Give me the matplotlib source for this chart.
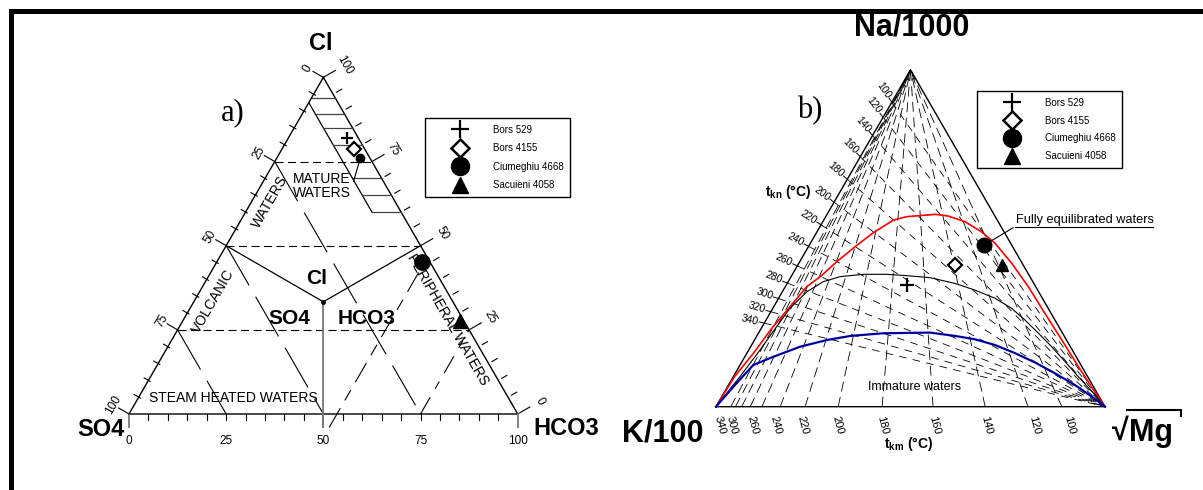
import numpy as np
import matplotlib.pyplot as plt
from matplotlib.lines import Line2D
from matplotlib.patches import Rectangle

plt.rcParams['font.family'] = ['Liberation Sans', 'DejaVu Sans']
plt.rcParams['mathtext.fontset'] = 'custom'
plt.rcParams['mathtext.rm'] = 'Liberation Sans'
plt.rcParams['mathtext.bf'] = 'Liberation Sans:bold'
plt.rcParams['lines.scale_dashes'] = False
plt.rcParams['lines.dash_capstyle'] = 'butt'

W, H = 1203, 490
R3 = np.sqrt(3) / 2

samples = ['Bors 529', 'Bors 4155', 'Ciumeghiu 4668', 'Sacuieni 4058']

# a) relative Cl - SO4 - HCO3 (%)
a_cl = [81.9, 78.7, 45.3, 27.7]
a_hco3 = [15.2, 18.5, 52.7, 71.2]
dot_cl, dot_hco3 = 76.1, 21.5          # small dot with leader
lead_cl, lead_hco3 = 69.1, 23.2
mature_so4 = 7.5
mature_cl = [94, 89, 85, 80, 70, 65, 60]
cl_levels = [75, 50, 25]
so4_levels = [25, 50, 75]

# b) Na/1000 - K/100 - sqrt(Mg) (%)
b_na = [36.1, 42.1, 48.0, 42.1]
b_mg = [31.0, 40.4, 45.0, 52.6]

tk_temps = [100, 120, 140, 160, 180, 200, 220, 240, 260, 280, 300, 320, 340]
tkn_na = [90.4, 85.9, 80.5, 74.2, 67.5, 60.7, 54.0, 47.6, 41.8, 36.7, 32.1, 28.2, 24.8]
tkm_mg = [88.9, 80.2, 69.2, 55.8, 42.7, 31.4, 22.9, 16.5, 11.8, 8.8, 6.6, 5.0, 3.8]
tkm_labels = ['100', '120', '140', '160', '180', '200', '220', '240', '260', '300', '340']
tkm_label_pos = [90.7, 81.7, 69.4, 56.0, 42.7, 31.1, 22.1, 15.2, 9.3, 3.9, 1.0]

red_na = [0, 8.9, 15.9, 23.3, 29.7, 35.6, 38.6, 43.0, 47.5, 51.6, 55.4, 56.4, 56.9,
          57.1, 56.6, 54.9, 51.9, 48.5, 42.6, 35.6, 27.7, 19.8, 11.9, 5.9, 0]
red_mg = [0, 0.3, 1.7, 2.7, 4.2, 5.5, 7.5, 9.5, 12.0, 14.6, 17.9, 20.8, 25.7,
          27.8, 31.4, 36.6, 42.3, 47.5, 54.7, 62.5, 70.7, 79.0, 87.2, 93.6, 100]
black_na = [0, 8.9, 16.8, 23.7, 29.2, 34.1, 37.1, 38.6, 39.3, 39.3, 38.9, 38.3,
            36.6, 34.6, 32.2, 29.2, 25.7, 21.8, 17.8, 13.4, 8.9, 4.5, 0]
black_mg = [0, 1.7, 2.9, 3.7, 4.4, 6.3, 9.0, 12.6, 18.2, 24.2, 29.6, 35.9,
            43.1, 49.3, 55.6, 61.4, 66.6, 72.0, 77.4, 83.0, 88.7, 94.4, 100]
blue_na = [0, 5.9, 12.4, 14.8, 17.8, 19.8, 21.0, 21.8, 22.0, 21.0, 20.0, 18.3,
           15.9, 13.1, 9.9, 6.4, 3.0, 0]
blue_mg = [0, 1.5, 3.4, 7.3, 12.7, 18.6, 24.0, 32.1, 44.0, 51.0, 56.6, 62.6,
           68.9, 75.5, 82.2, 89.1, 95.1, 100]

leg_styles = [dict(marker='+', ms=13, mew=1.6, color='k'),
              dict(marker='D', ms=9, mfc='white', mec='k', mew=1.8),
              dict(marker='o', ms=13, color='k'),
              dict(marker='^', ms=12, color='k')]
a_styles = [dict(marker='+', ms=9, mew=1.6, color='k'),
            dict(marker='D', ms=6.8, mfc='white', mec='k', mew=1.6),
            dict(marker='o', ms=11, color='k'),
            dict(marker='^', ms=9.5, color='k')]
b_styles = [dict(marker='+', ms=9.5, mew=1.6, color='k'),
            dict(marker='D', ms=6.8, mfc='white', mec='k', mew=1.6),
            dict(marker='o', ms=10.5, color='k'),
            dict(marker='^', ms=8.5, color='k')]


def A(cl, hco3):
    cl = np.asarray(cl, float) / 100
    hco3 = np.asarray(hco3, float) / 100
    return np.array([hco3 + cl / 2, cl * R3])


def B(na, mg):
    na = np.asarray(na, float) / 100
    mg = np.asarray(mg, float) / 100
    return np.array([mg + na / 2, na * R3])


def seg(ax, p, q, **kw):
    ax.plot([p[0], q[0]], [p[1], q[1]], **kw)


def ftext(x, y, s, **kw):
    fig.text(x / W, 1 - y / H, s, **kw)


fig = plt.figure(figsize=(W / 100, H / 100), dpi=100)


def tri_axes(px0, px1, ox, oy, scale):
    ax = fig.add_axes([px0 / W, 0, (px1 - px0) / W, 1])
    ax.set_xlim((px0 - ox) / scale, (px1 - ox) / scale)
    ax.set_ylim((oy - H) / scale, oy / scale)
    ax.axis('off')
    return ax


sa, sb = 388.7, 389.0
ax_a = tri_axes(15, 600, 129, 414, sa)
ax_b = tri_axes(603, 1203, 716, 406.7, sb)

# frame
fig.add_artist(Rectangle((9 / W, 1 - 14 / H), 1 - 9 / W, 5 / H, transform=fig.transFigure,
                         color='k', lw=0))
fig.add_artist(Rectangle((9 / W, 0), 5 / W, 1 - 9 / H, transform=fig.transFigure,
                         color='k', lw=0))

# ---------------- a) Cl-SO4-HCO3 ----------------
outline = A([100, 0, 0, 100], [0, 0, 100, 0])
ax_a.plot(outline[0], outline[1], color='k', lw=1.0)

nl = np.array([-R3, 0.5])
nr = np.array([R3, 0.5])
nb = np.array([0.0, -1.0])
for v in range(0, 101, 5):
    major = v % 25 == 0
    p = A(100 - v, 0)
    d0, d1 = (0, 12) if major else (-2, 5)
    seg(ax_a, p + nl * d0 / sa, p + nl * d1 / sa, color='k', lw=0.8)
    p = A(v, 100 - v)
    d0, d1 = (0, 14) if major else (4, 10)
    seg(ax_a, p + nr * d0 / sa, p + nr * d1 / sa, color='k', lw=0.8)
    p = A(0, v)
    if v in (0, 50, 100):
        seg(ax_a, p, p + nb * 13 / sa, color='#777777', lw=1.3)
    else:
        seg(ax_a, p, p + nb * 6 / sa, color='k', lw=0.8)

for v in [0, 25, 50, 75, 100]:
    p = A(100 - v, 0) + nl * 18 / sa
    ax_a.text(p[0], p[1], str(v), rotation=60, ha='center', va='center', fontsize=8.5)
    p = A(v, 100 - v) + nr * 25 / sa
    ax_a.text(p[0], p[1], str(v), rotation=-60, ha='center', va='center', fontsize=8.5)
    p = A(0, v) + nb * 27 / sa
    ax_a.text(p[0], p[1], str(v), ha='center', va='center', fontsize=8.5)

for c in cl_levels:
    p, q = A(c, 0), A(c, 100 - c)
    seg(ax_a, p, q, color='k', lw=0.8, dashes=(5.8, 3.2))

for s in so4_levels:
    p, q = A(100 - s, 0), A(0, 100 - s)
    seg(ax_a, p, q, color='k', lw=0.8, dashes=(33, 9.4))

seg(ax_a, A(-4, 53.5), A(44, 53.5), color='k', lw=0.8, dashes=(16, 6.5, 8.6, 6.5))
seg(ax_a, A(0, 75), A(25, 75), color='k', lw=0.8, dashes=(14, 7, 6, 7))

centre = A(100 / 3, 100 / 3)
seg(ax_a, A(50, 0), centre, color='k', lw=0.9)
seg(ax_a, A(50, 50), centre, color='k', lw=0.9)
seg(ax_a, centre, A(0, 50) + nb * 13 / sa, color='#777777', lw=1.3)
ax_a.plot(*centre, 'o', color='k', ms=2.5)

# mature waters hatch
seg(ax_a, A(100 - mature_so4, 0), A(mature_cl[-1], 100 - mature_cl[-1] - mature_so4),
    color='k', lw=0.9)
for c in mature_cl:
    so4 = min(mature_so4, 100 - c)
    seg(ax_a, A(c, 100 - c - so4), A(c, 100 - c), color='#444444', lw=0.9)

seg(ax_a, A(dot_cl, dot_hco3), A(lead_cl, lead_hco3), color='k', lw=0.8)
ax_a.plot(*A(dot_cl, dot_hco3), 'o', color='k', ms=6)

for i, st in enumerate(a_styles):
    ax_a.plot(*A(a_cl[i], a_hco3[i]), ls='none', **st)

ftext(321, 44, 'Cl', fontsize=17, fontweight='bold', ha='center', va='center')
ftext(100.5, 429, 'SO4', fontsize=17, fontweight='bold', ha='center', va='center')
ftext(566, 428, 'HCO3', fontsize=17, fontweight='bold', ha='center', va='center')
ftext(316.7, 278, 'Cl', fontsize=15, fontweight='bold', ha='center', va='center')
ftext(289, 318, 'SO4', fontsize=15, fontweight='bold', ha='center', va='center')
ftext(366.5, 318, 'HCO3', fontsize=15, fontweight='bold', ha='center', va='center')
ftext(322, 186, 'MATURE\nWATERS', fontsize=10, ha='center', va='center', linespacing=1.0)
ftext(270, 202, 'WATERS', fontsize=10, rotation=60, ha='center', va='center')
ftext(213, 301, 'VOLCANIC', fontsize=10, rotation=60, ha='center', va='center')
ftext(448, 320, 'PERIPHERAL WATERS', fontsize=10, rotation=-60, ha='center', va='center')
ftext(233, 398, 'STEAM HEATED WATERS', fontsize=10, ha='center', va='center')
ftext(232.5, 113, 'a)', fontsize=22, family='Liberation Serif', ha='center', va='center')

leg_a = ax_a.legend([Line2D([], [], ls='none', **st) for st in leg_styles], samples,
                    loc='upper left', bbox_to_anchor=(425 / W, 1 - 118 / H),
                    bbox_transform=fig.transFigure, borderaxespad=0, fontsize=7,
                    handlelength=5.8, handletextpad=0.46, borderpad=0.7,
                    labelspacing=0.87, fancybox=False, framealpha=1, edgecolor='k')
leg_a.get_frame().set_linewidth(1.0)

# ---------------- b) Na-K-Mg ----------------
outline = B([0, 0, 100, 0], [0, 100, 0, 0])
ax_b.plot(outline[0], outline[1], color='k', lw=1.0)

apex = B(100, 0)
mg_v = B(0, 100)
for f in tkm_mg:
    seg(ax_b, B(0, f), apex, color='k', lw=0.6, dashes=(7.2, 4.0))
for t, g in zip(tk_temps, tkn_na):
    p = B(g, 0)
    seg(ax_b, p, mg_v, color='k', lw=0.6, dashes=(5.5, 4.5))
    u = p - mg_v
    u = u / np.hypot(*u)
    seg(ax_b, p, p + u * 5 / sb, color='k', lw=0.7)
    q = p + u * 6 / sb
    ang = np.degrees(np.arctan2(-u[1], -u[0]))
    ax_b.text(q[0], q[1], str(t), rotation=ang, rotation_mode='anchor',
              ha='right', va='center', fontsize=7.5)

for lab, x in zip(tkm_labels, tkm_label_pos):
    p = B(0, x) + np.array([-2, -10]) / sb
    ax_b.text(p[0], p[1], lab, rotation=-75, rotation_mode='anchor',
              ha='left', va='center', fontsize=8)

ax_b.plot(*B(red_na, red_mg), color='#ff0000', lw=1.2)
ax_b.plot(*B(black_na, black_mg), color='k', lw=0.8)
ax_b.plot(*B(blue_na, blue_mg), color='#0000ff', lw=1.6)
ax_b.plot(*B(blue_na, blue_mg), color='k', lw=0.5)

for i, st in enumerate(b_styles):
    ax_b.plot(*B(b_na[i], b_mg[i]), ls='none', **st)

ax_b.annotate('Fully equilibrated waters', xy=B(b_na[2], b_mg[2]), xycoords='data',
              xytext=(1016 / W, 1 - 220 / H), textcoords='figure fraction',
              ha='left', va='center', fontsize=9.2,
              arrowprops=dict(arrowstyle='-', color='k', lw=0.8, shrinkA=0, shrinkB=4,
                              relpos=(0, 0)))
fig.add_artist(Line2D([1015 / W, 1153 / W], [1 - 227 / H, 1 - 227 / H], color='k', lw=0.8))

ftext(915, 387, 'Immature waters', fontsize=9, ha='center', va='center')
ftext(811, 196, r'$\mathbf{t}_{\mathbf{kn}}$ (°C)', fontsize=10, fontweight='bold',
      ha='right', va='baseline')
ftext(909, 448, r'$\mathbf{t}_{\mathbf{km}}$ (°C)', fontsize=10, fontweight='bold',
      ha='center', va='baseline')
ftext(912, 28, 'Na/1000', fontsize=22, fontweight='bold', ha='center', va='center')
ftext(703, 433, 'K/100', fontsize=22, fontweight='bold', ha='right', va='center')
ftext(1112, 432, '√', fontsize=22, fontweight='bold', ha='left', va='center')
ftext(1129, 433, 'Mg', fontsize=22, fontweight='bold', ha='left', va='center')
fig.add_artist(Line2D([1127 / W, 1181 / W, 1181 / W], [1 - 410 / H, 1 - 410 / H, 1 - 416 / H],
                      color='k', lw=1.5, solid_joinstyle='miter'))
ftext(809.5, 111, 'b)', fontsize=22, family='Liberation Serif', ha='center', va='center')

leg_b = ax_b.legend([Line2D([], [], ls='none', **st) for st in leg_styles], samples,
                    loc='upper left', bbox_to_anchor=(977 / W, 1 - 91 / H),
                    bbox_transform=fig.transFigure, borderaxespad=0, fontsize=7,
                    handlelength=5.8, handletextpad=0.46, borderpad=0.7,
                    labelspacing=0.8, fancybox=False, framealpha=1, edgecolor='k')
leg_b.get_frame().set_linewidth(1.0)

fig.savefig('out.png', dpi=100)
